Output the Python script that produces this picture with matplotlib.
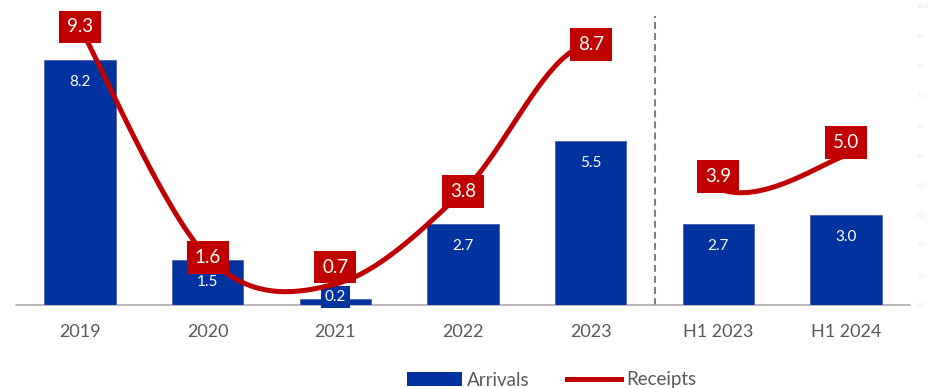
import numpy as np
import matplotlib
matplotlib.use("Agg")
import matplotlib.pyplot as plt
from matplotlib.patches import Patch
from matplotlib.lines import Line2D

# Data
categories = ["2019", "2020", "2021", "2022", "2023", "H1 2023", "H1 2024"]
arrivals = [8.2, 1.5, 0.2, 2.7, 5.5, 2.7, 3.0]
receipts = [9.3, 1.6, 0.7, 3.8, 8.7, 3.9, 5.0]
right_ticks = [0, 1, 2, 3, 4, 5, 6, 7, 8, 9, 10]

BLUE = "#0033A0"
RED = "#C00000"
GREY_TXT = "#595959"

plt.rcParams["font.family"] = ["Lato", "DejaVu Sans"]

fig = plt.figure(figsize=(9.38, 3.88), dpi=100)
ax = fig.add_axes([16 / 938, (388 - 305) / 388, (910 - 16) / 938, 299 / 388])

x = np.arange(len(categories))
ax.set_xlim(-0.5, len(categories) - 0.5)
ax.set_ylim(0, 10)

# Bars
bars = ax.bar(x, arrivals, width=0.56, color=BLUE, edgecolor="#4F68B0",
              linewidth=0.7, zorder=2)

# Bar value labels just inside the top of each bar; short bars get a
# filled label so the value stays readable
px_per_unit = 299 / 10.0
for xi, v in zip(x, arrivals):
    if v * px_per_unit < 30:
        ax.text(xi, 8 / px_per_unit, f"{v:.1f}", color="white", fontsize=11,
                ha="center", va="center", zorder=3,
                bbox=dict(boxstyle="square,pad=0.25", fc=BLUE, ec="none"))
    else:
        ax.text(xi, v - 22 / px_per_unit, f"{v:.1f}", color="white",
                fontsize=11, ha="center", va="center", zorder=3)

# Smoothed receipts line (Bezier through every point, Catmull-Rom tangents)
pts = np.column_stack([x, receipts]).astype(float)
n = len(pts)
segments = []
for i in range(n - 1):
    p0 = pts[i - 1] if i > 0 else pts[i]
    p1 = pts[i]
    p2 = pts[i + 1]
    p3 = pts[i + 2] if i + 2 < n else pts[i + 1]
    c1 = p1 + (p2 - p0) / 6.0
    c2 = p2 - (p3 - p1) / 6.0
    t = np.linspace(0, 1, 60)[:, None]
    curve = ((1 - t) ** 3) * p1 + 3 * ((1 - t) ** 2) * t * c1 \
        + 3 * (1 - t) * t ** 2 * c2 + t ** 3 * p2
    segments.append(curve)

# The full-year and half-year parts are not joined
hidden_segment = 4
full_year = np.vstack(segments[:hidden_segment])
half_year = np.vstack(segments[hidden_segment + 1:])
for seg in (full_year, half_year):
    ax.plot(seg[:, 0], seg[:, 1], color=RED, lw=3.6,
            solid_capstyle="butt", zorder=4)

# Receipt value labels in red boxes
label_offsets = [0, 0, 17, 0, 0, 12, 13]  # pixel shift upward
for xi, v, off in zip(x, receipts, label_offsets):
    ax.annotate(f"{v:.1f}", (xi, v), xytext=(0, off * 72 / 100),
                textcoords="offset points", ha="center", va="center",
                color="white", fontsize=13.5, zorder=5,
                bbox=dict(boxstyle="square,pad=0.42", fc=RED, ec="none"))

# Divider between full years and half years
ax.vlines(4.5, 0, 9.65, colors="#7F7F7F", lw=1.5,
          linestyles=(0, (3.3, 2.0)), zorder=1)

# Axes styling
for s in ("top", "left", "right"):
    ax.spines[s].set_visible(False)
ax.spines["bottom"].set_color("#A6A6A6")
ax.spines["bottom"].set_linewidth(1.1)
ax.spines["bottom"].set_zorder(1)

ax.set_xticks(x)
ax.set_xticklabels(categories, fontsize=13, color=GREY_TXT)
ax.tick_params(axis="x", length=0, pad=14)

ax.yaxis.tick_right()
ax.set_yticks(right_ticks)
ax.set_yticklabels([f"{t:.1f}" for t in right_ticks], fontsize=4.5,
                   color="#E6E6E6")
ax.tick_params(axis="y", length=0, pad=5)

# Legend
handles = [Patch(facecolor=BLUE, edgecolor="none"),
           Line2D([], [], color=RED, lw=3.6)]
fig.legend(handles, ["Arrivals", "Receipts"], loc="center",
           bbox_to_anchor=(552 / 938, 1 - 380 / 388), ncol=2, frameon=False,
           fontsize=13.5, labelcolor=GREY_TXT, handlelength=2.9,
           handletextpad=0.28, columnspacing=2.0, borderpad=0,
           borderaxespad=0)

fig.savefig("out.png", dpi=100)
